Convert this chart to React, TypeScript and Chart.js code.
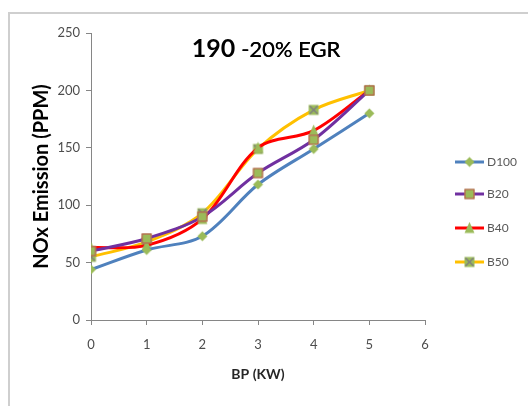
import React, { useEffect, useRef } from "react";
import { Chart, registerables } from "chart.js";
Chart.register(...registerables);

const bp = [0, 1, 2, 3, 4, 5];
const d100 = [44, 61, 73, 118, 149, 180];
const b20 = [60, 71, 90, 128, 157, 200];
const b40 = [63, 65, 88, 150, 165, 200];
const b50 = [55, 68, 93, 149, 183, 200];
const seriesNames = ["D100", "B20", "B40", "B50"];
const seriesColors = ["#4F81BD", "#7030A0", "#FF0000", "#FFC000"];
const titleBold = "190";
const titleRest = " -20% EGR";
const xTitle = "BP (KW)";
const yTitle = "NOx Emission (PPM)";

const GREEN = "#9BBB59";

function makeMarker(kind: string): HTMLCanvasElement {
  const c = document.createElement("canvas");
  const s = 13;
  c.width = s;
  c.height = s;
  const g = c.getContext("2d")!;
  g.fillStyle = GREEN;
  g.strokeStyle = "#8aa84c";
  g.lineWidth = 1;
  const m = s / 2;
  if (kind === "diamond") {
    g.beginPath();
    g.moveTo(m, m - 5);
    g.lineTo(m + 5, m);
    g.lineTo(m, m + 5);
    g.lineTo(m - 5, m);
    g.closePath();
    g.fill();
  } else if (kind === "square") {
    g.fillRect(m - 5, m - 5, 10, 10);
    g.strokeStyle = "#C0504D";
    g.strokeRect(m - 5 + 0.5, m - 5 + 0.5, 9, 9);
  } else if (kind === "triangle") {
    g.beginPath();
    g.moveTo(m, m - 6);
    g.lineTo(m + 5, m + 5);
    g.lineTo(m - 5, m + 5);
    g.closePath();
    g.fill();
  } else {
    g.fillRect(m - 5, m - 5, 10, 10);
    g.strokeStyle = "#7F7F7F";
    g.lineWidth = 1.5;
    g.beginPath();
    g.moveTo(m - 4, m - 4);
    g.lineTo(m + 4, m + 4);
    g.moveTo(m + 4, m - 4);
    g.lineTo(m - 4, m + 4);
    g.stroke();
  }
  return c;
}

export default function App() {
  const ref = useRef<HTMLCanvasElement>(null);
  useEffect(() => {
    const markers = ["diamond", "square", "triangle", "xsquare"].map(makeMarker);
    const values = [d100, b20, b40, b50];
    const framePlugin = {
      id: "frame",
      beforeDraw(chart: any) {
        const ctx = chart.ctx;
        ctx.save();
        ctx.fillStyle = "#ffffff";
        ctx.fillRect(0, 0, chart.width, chart.height);
        ctx.strokeStyle = "#cfcfcf";
        ctx.lineWidth = 2;
        ctx.strokeRect(9, 13, 700, 600);
        ctx.restore();
      },
      afterDraw(chart: any) {
        const ctx = chart.ctx;
        ctx.save();
        // title
        ctx.fillStyle = "#000000";
        ctx.textBaseline = "alphabetic";
        ctx.font = "bold 25px Lato";
        const w1 = ctx.measureText(titleBold).width;
        ctx.font = "22px Lato";
        const w2 = ctx.measureText(titleRest).width;
        const cx = 266;
        const x = cx - (w1 + w2) / 2;
        ctx.font = "bold 25px Lato";
        ctx.fillText(titleBold, x, 57);
        ctx.font = "22px Lato";
        ctx.fillText(titleRest, x + w1, 57);
        ctx.fillText(titleRest, x + w1 + 0.4, 57);
        // legend
        const ys = [162, 194, 228, 262];
        ctx.font = "12px Lato";
        ctx.textBaseline = "middle";
        seriesNames.forEach((n, i) => {
          ctx.strokeStyle = seriesColors[i];
          ctx.lineWidth = 3;
          ctx.beginPath();
          ctx.moveTo(455, ys[i]);
          ctx.lineTo(484, ys[i]);
          ctx.stroke();
          const mk = markers[i];
          ctx.drawImage(mk, 469.5 - mk.width / 2, ys[i] - mk.height / 2);
          ctx.fillStyle = "#595959";
          ctx.fillText(n, 487, ys[i] + 0.5);
        });
        ctx.restore();
      },
    };
    const chart = new Chart(ref.current!, {
      type: "line",
      data: {
        labels: bp,
        datasets: seriesNames.map((n, i) => ({
          label: n,
          data: bp.map((b, j) => ({ x: b, y: values[i][j] })),
          borderColor: seriesColors[i],
          backgroundColor: GREEN,
          borderWidth: 3,
          tension: 0.33,
          pointStyle: markers[i],
          pointRadius: 5,
          fill: false,
        })),
      },
      options: {
        responsive: false,
        animation: false,
        layout: { padding: { top: 33, right: 103, left: 0, bottom: 0 } },
        plugins: { legend: { display: false }, title: { display: false }, tooltip: { enabled: false } },
        scales: {
          x: {
            type: "linear",
            min: 0,
            max: 6,
            ticks: { stepSize: 1, color: "#4d4d4d", font: { family: "Lato", size: 13 }, padding: 12 },
            grid: { drawOnChartArea: false, color: "#868686", tickLength: 5 },
            border: { color: "#868686" },
            title: { display: true, text: xTitle, color: "#262626", font: { family: "Lato", size: 14, weight: "bold" }, padding: { top: 0, bottom: 23 } },
            afterFit: (s: any) => { s.height = 86; },
          },
          y: {
            min: 0,
            max: 250,
            ticks: { stepSize: 50, color: "#4d4d4d", font: { family: "Lato", size: 13 }, padding: 6 },
            grid: { drawOnChartArea: false, color: "#868686", tickLength: 5 },
            border: { color: "#868686" },
            title: { display: true, text: yTitle, color: "#000000", font: { family: "Lato", size: 20, weight: "bold" }, padding: { top: 30, bottom: 0 } },
            afterFit: (s: any) => { s.width = 91; },
          },
        },
      },
      plugins: [framePlugin],
    } as any);
    return () => chart.destroy();
  }, []);
  return (
    <canvas
      ref={ref}
      width={528}
      height={406}
      style={{ position: "fixed", left: 0, top: 0, display: "block" }}
    />
  );
}
